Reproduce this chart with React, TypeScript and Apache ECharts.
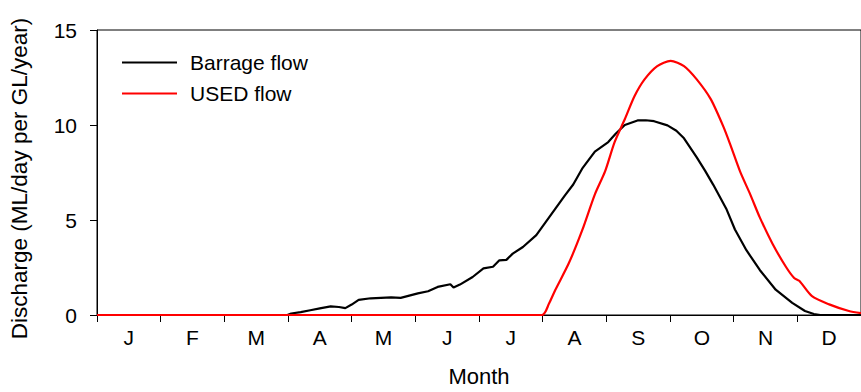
import React, { useEffect, useRef } from "react";
import * as echarts from "echarts";

const monthLabels = ["J", "F", "M", "A", "M", "J", "J", "A", "S", "O", "N", "D"];

// x positions in months from 1 January (0 = start of Jan, 12 = end of Dec)
const barrageMonths = [0, 2.99, 3.05, 3.2, 3.35, 3.5, 3.67, 3.8, 3.9, 4.0, 4.11, 4.3, 4.62, 4.77, 5.04, 5.2, 5.35, 5.55, 5.6, 5.7, 5.9, 6.07, 6.22, 6.32, 6.43, 6.53, 6.69, 6.9, 7.05, 7.2, 7.35, 7.48, 7.62, 7.82, 8.03, 8.15, 8.29, 8.49, 8.62, 8.75, 8.96, 9.1, 9.22, 9.42, 9.55, 9.68, 9.89, 10.02, 10.2, 10.41, 10.66, 10.92, 11.12, 11.26, 11.36, 12];
const barrageFlow = [0, 0, 0.08, 0.15, 0.25, 0.35, 0.45, 0.42, 0.36, 0.55, 0.8, 0.88, 0.93, 0.9, 1.14, 1.25, 1.48, 1.62, 1.45, 1.6, 2.0, 2.45, 2.54, 2.88, 2.9, 3.23, 3.58, 4.2, 4.9, 5.6, 6.3, 6.87, 7.7, 8.6, 9.1, 9.55, 10.0, 10.24, 10.25, 10.2, 9.98, 9.7, 9.3, 8.3, 7.6, 6.85, 5.55, 4.5, 3.41, 2.37, 1.33, 0.64, 0.21, 0.05, 0, 0];

const usedMonths = [0, 6.99, 7.1, 7.2, 7.41, 7.62, 7.82, 7.98, 8.13, 8.29, 8.44, 8.6, 8.8, 9.01, 9.22, 9.42, 9.64, 9.84, 9.95, 10.1, 10.26, 10.41, 10.61, 10.82, 10.95, 11.03, 11.23, 11.5, 11.81, 12];
const usedFlow = [0, 0, 0.6, 1.33, 2.72, 4.45, 6.35, 7.56, 9.1, 10.3, 11.5, 12.4, 13.1, 13.38, 13.1, 12.4, 11.36, 9.9, 8.94, 7.56, 6.35, 5.14, 3.75, 2.54, 1.95, 1.8, 0.99, 0.56, 0.21, 0.1];

const FONT = "'Liberation Sans', Arial, Helvetica, sans-serif";

export default function App() {
  const ref = useRef<HTMLDivElement>(null);
  useEffect(() => {
    if (!ref.current) return;
    const chart = echarts.init(ref.current, undefined, { renderer: "svg" });
    const pairs = (xs: number[], ys: number[]) => xs.map((x, i) => [x, ys[i]]);
    chart.setOption({
      animation: false,
      backgroundColor: "#fff",
      textStyle: { fontFamily: FONT, color: "#000" },
      grid: {
        left: 95,
        top: 30,
        right: -8.5,
        bottom: 73,
        show: true,
        borderColor: "#000",
        borderWidth: 1,
        backgroundColor: "transparent",
      },
      legend: {
        orient: "vertical",
        left: 117,
        top: 47,
        itemWidth: 55,
        itemHeight: 2.2,
        itemGap: 10,
        textStyle: { fontSize: 21, lineHeight: 20, color: "#000", fontFamily: FONT, padding: [0, 0, 0, 8] },
        data: [
          { name: "Barrage flow", icon: "rect", itemStyle: { color: "#000" } },
          { name: "USED flow", icon: "rect", itemStyle: { color: "#ff0000" } },
        ],
      },
      xAxis: [
        {
          type: "category",
          data: monthLabels,
          boundaryGap: true,
          name: "Month",
          nameLocation: "middle",
          nameGap: 50,
          nameTextStyle: { fontSize: 22, color: "#000", fontFamily: FONT },
          axisLine: { show: true, lineStyle: { color: "#000", width: 1 } },
          axisTick: { show: true, interval: 0, length: 7, lineStyle: { color: "#000" } },
          axisLabel: { fontSize: 21, color: "#000", margin: 12, fontFamily: FONT, interval: 0 },
          splitLine: { show: false },
        },
        {
          type: "value",
          min: 0,
          max: 12,
          show: false,
          position: "bottom",
        },
      ],
      yAxis: {
        type: "value",
        min: 0,
        max: 15,
        interval: 5,
        name: "Discharge (ML/day per GL/year)",
        nameLocation: "middle",
        nameGap: 66,
        nameTextStyle: { fontSize: 22.5, color: "#000", fontFamily: FONT, padding: [0, 12, 0, 0] },
        axisLine: { show: true, lineStyle: { color: "#000", width: 1 } },
        axisTick: { show: true, length: 7, lineStyle: { color: "#000" } },
        axisLabel: { fontSize: 21, color: "#000", margin: 20, fontFamily: FONT },
        splitLine: { show: false },
      },
      series: [
        {
          name: "Barrage flow",
          type: "line",
          xAxisIndex: 1,
          data: pairs(barrageMonths, barrageFlow),
          symbol: "none",
          lineStyle: { color: "#000", width: 2.2 },
          itemStyle: { color: "#000" },
          smooth: false,
        },
        {
          name: "USED flow",
          type: "line",
          xAxisIndex: 1,
          data: pairs(usedMonths, usedFlow),
          symbol: "none",
          lineStyle: { color: "#ff0000", width: 2.2 },
          itemStyle: { color: "#ff0000" },
          smooth: 0.25,
        },
      ],
    });
    return () => chart.dispose();
  }, []);
  return (
    <div
      ref={ref}
      style={{ position: "absolute", left: 0, top: 0, width: 861, height: 392 }}
    />
  );
}
